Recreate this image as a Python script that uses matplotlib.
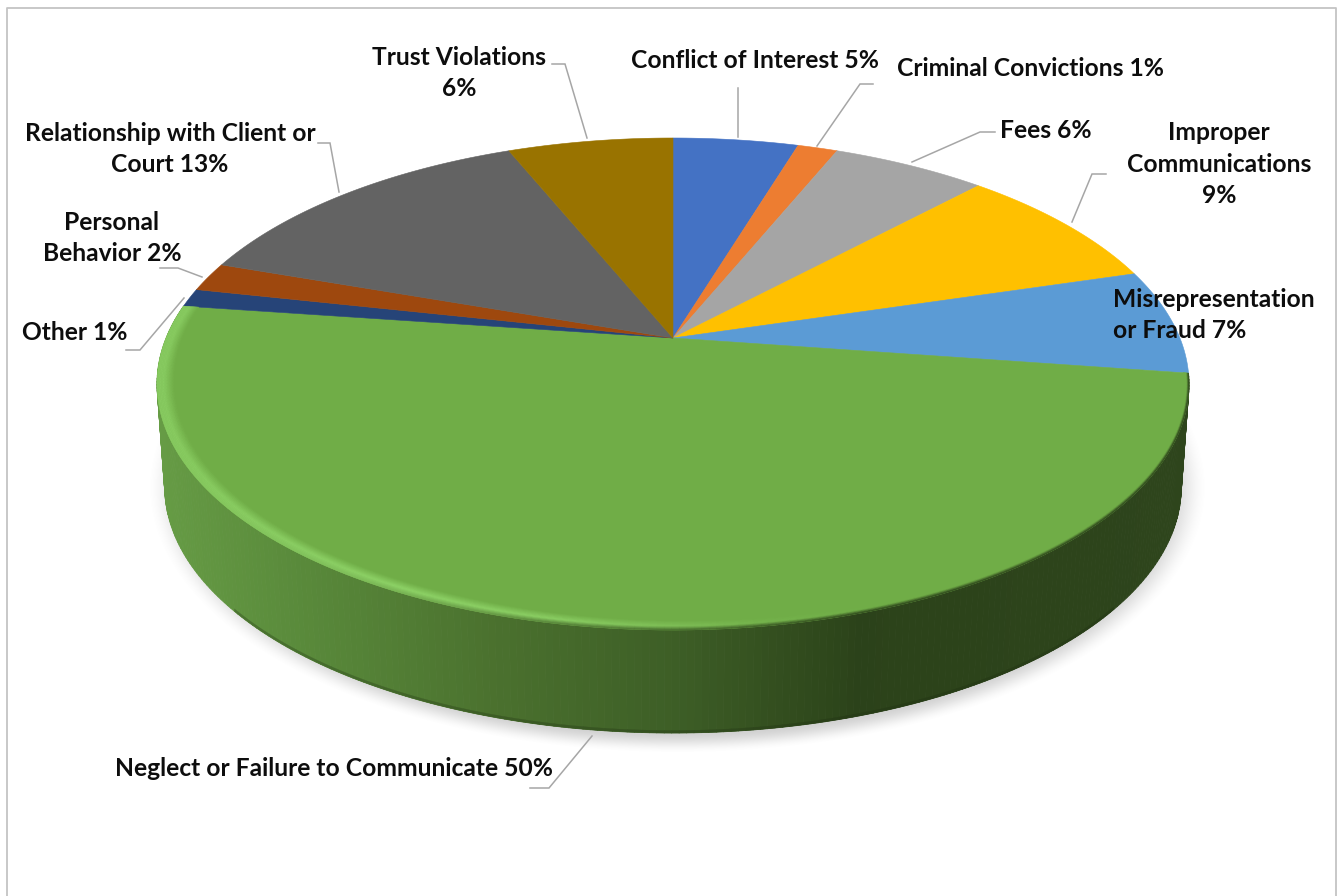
import matplotlib
matplotlib.use("Agg")
import matplotlib.pyplot as plt
from matplotlib.collections import PolyCollection
from matplotlib.patches import Polygon
import numpy as np

# values (the labels are rounded)
categories = ["Conflict of Interest", "Criminal Convictions", "Fees", "Improper Communications",
              "Misrepresentation or Fraud", "Neglect or Failure to Communicate", "Other",
              "Personal Behavior", "Relationship with Client or Court", "Trust Violations"]
values = [4.7, 1.5, 5.8, 8.4, 6.9, 49.9, 1.2, 1.9, 13.5, 6.2]
colors = ["#4472c4", "#ed7d31", "#a5a5a5", "#ffc000", "#5b9bd5",
          "#70ad47", "#264478", "#9e480e", "#636363", "#997300"]
label_texts = ["Conflict of Interest 5%", "Criminal Convictions 1%", "Fees 6%",
               "Improper\nCommunications\n9%", "Misrepresentation\nor Fraud 7%",
               "Neglect or Failure to Communicate 50%", "Other 1%",
               "Personal\nBehavior 2%", "Relationship with Client or\nCourt 13%",
               "Trust Violations\n6%"]

# layout in pixels
W, H = 1341, 896
CX, CY = 673, 338
TOP_Y, BOTTOM_Y = 138, 630
HALF_W = 516
DEPTH = 103
SIDE_SCALE = 0.985

label_pos = [(755, 61, "center"), (1031, 69, "center"), (1046, 130, "center"),
             (1219, 164, "center"), (1113, 315, "left"), (334, 768, "center"),
             (75, 333, "center"), (112, 238, "center"), (170, 149, "center"),
             (459, 73, "center")]
leaders = [[(738, 88), (738, 137)],
           [(873, 84), (860, 84), (817, 146)],
           [(995, 132), (980, 132), (912, 162)],
           [(1106, 174), (1092, 174), (1072, 222)],
           None,
           [(530, 788), (549, 788), (592, 736)],
           [(126, 350), (140, 350), (184, 298)],
           [(160, 268), (178, 268), (202, 277)],
           [(318, 143), (330, 143), (339, 192)],
           [(552, 64), (565, 64), (587, 138)]]

# perspective of the tilted disc
b = CY
c = (2 * b - TOP_Y - BOTTOM_Y) / (BOTTOM_Y - TOP_Y)
a = BOTTOM_Y * (1 + c) - b
t_all = np.linspace(0, 2 * np.pi, 2000)
A = HALF_W / np.max(np.sin(t_all) / (1 + c * -np.cos(t_all)))


def project(theta, r=1.0):
    x, y = r * np.sin(theta), -r * np.cos(theta)
    d = 1 + c * y
    return CX + A * x / d, (a * y + b) / d


def mix(col1, col2, f):
    return tuple((1 - f) * np.array(matplotlib.colors.to_rgb(col1)) + f * np.array(matplotlib.colors.to_rgb(col2)))


def side_color(x):
    stops = [157, 300, 500, 673, 860, 1189]
    reds = [0.40, 0.35, 0.29, 0.24, 0.17, 0.18]
    greens = [0.61, 0.54, 0.44, 0.37, 0.26, 0.27]
    blues = [0.27, 0.23, 0.18, 0.15, 0.10, 0.11]
    return (np.interp(x, stops, reds), np.interp(x, stops, greens), np.interp(x, stops, blues))


fig = plt.figure(figsize=(W / 100, H / 100), dpi=100)
plt.rcParams["font.family"] = ["Lato", "DejaVu Sans"]
ax = fig.add_axes([0, 0, 1, 1])
ax.set_xlim(0, W)
ax.set_ylim(H, 0)
ax.axis("off")

# chart frame
ax.plot([7.5, 7.5, 1336.5, 1336.5], [H, 8.5, 8.5, H], color="#c4c4c4", lw=1.3, zorder=1)

# soft shadow below the disc
yy, xx = np.mgrid[0:H, 0:W]
dist = np.sqrt(((xx - 677) / 530) ** 2 + ((yy - 487) / 266) ** 2)
fade = np.clip((1.0 - dist) / 0.08, 0, 1)
shadow = np.zeros((H, W, 4))
shadow[..., :3] = 0.5
shadow[..., 3] = 0.36 * fade * fade * (3 - 2 * fade)
ax.imshow(shadow, extent=(0, W, H, 0), zorder=2, aspect="auto")

edges = np.cumsum([0] + values) / 100 * 2 * np.pi

# side wall of the front slice
i_front = categories.index("Neglect or Failure to Communicate")
th = np.linspace(edges[i_front], edges[i_front + 1], 260)
tx, ty = project(th)
bx, by = CX + (tx - CX) * SIDE_SCALE, ty + DEPTH
quads, quad_cols = [], []
for i in range(len(th) - 1):
    quads.append([(tx[i], ty[i]), (tx[i + 1], ty[i + 1]), (bx[i + 1], by[i + 1]), (bx[i], by[i])])
    quad_cols.append(side_color((tx[i] + tx[i + 1]) / 2))
ax.add_collection(PolyCollection(quads, facecolors=quad_cols, edgecolors=quad_cols, linewidths=0.6, zorder=3))
# darker lip along the bottom of the wall, only where the edge runs flat
lip, lip_quads = [], []
for i in range(len(th) - 1):
    if abs(bx[i + 1] - bx[i]) > 1.2 * abs(by[i + 1] - by[i]):
        lip_quads.append([(bx[i], by[i] - 2.5), (bx[i + 1], by[i + 1] - 2.5), (bx[i + 1], by[i + 1]), (bx[i], by[i])])
        lip.append(mix(quad_cols[i], "#1c2c10", 0.3))
ax.add_collection(PolyCollection(lip_quads, facecolors=lip, edgecolors=lip, linewidths=0.2, zorder=4))

# top face
for i, col in enumerate(colors):
    t = np.linspace(edges[i], edges[i + 1], 120)
    x, y = project(t)
    pts = np.column_stack([np.r_[CX, x], np.r_[CY, y]])
    ax.add_patch(Polygon(pts, closed=True, facecolor=col, edgecolor=col, lw=0.4, zorder=5))

# bevel along the rim of the front slice
base = colors[i_front]
bands = np.linspace(0, 1, 13)
bev_quads, bev_cols = [], []
for k in range(len(bands) - 1):
    f = (bands[k] + bands[k + 1]) / 2   # 0 inside, 1 at the outer edge
    for i in range(len(th) - 1):
        m = (th[i] + th[i + 1]) / 2
        # bevel is wide at the lower left and thin to the right
        left = np.clip((m - np.pi * 0.62) / (np.pi * 0.5), 0, 1)
        width = 0.010 + 0.022 * left
        r0 = 1 - width * (1 - bands[k])
        r1 = 1 - width * (1 - bands[k + 1])
        x0, y0 = project(th[i:i + 2], r0)
        x1, y1 = project(th[i:i + 2], r1)
        bev_quads.append([(x0[0], y0[0]), (x0[1], y0[1]), (x1[1], y1[1]), (x1[0], y1[0])])
        mx = (x0[0] + x0[1]) / 2
        light = np.interp(mx, [157, 400, 560, 760, 900], [0.75, 1.0, 0.9, 0.2, 0])
        shade = np.interp(mx, [157, 350, 560, 900], [0, 0.25, 0.8, 1])
        bright = mix(base, "#8fd468", light * min(f / 0.6, 1))
        bev_cols.append(mix(bright, side_color(mx), shade * np.clip((f - 0.6) / 0.4, 0, 1)))
ax.add_collection(PolyCollection(bev_quads, facecolors=bev_cols, edgecolors=bev_cols, linewidths=0.3, zorder=6))

# leader lines
for pts in leaders:
    if pts is None:
        continue
    ax.plot([p[0] for p in pts], [p[1] for p in pts], color="#a6a6a6", lw=1.1, zorder=7,
            solid_joinstyle="miter")

# labels
for text, (lx, ly, ha) in zip(label_texts, label_pos):
    ax.text(lx, ly, text, ha=ha, va="center", ma=ha, fontsize=17.7, fontweight="bold",
            color="#0d0d0d", linespacing=1.43, zorder=8)

fig.savefig("out.png", dpi=100, facecolor="white")
